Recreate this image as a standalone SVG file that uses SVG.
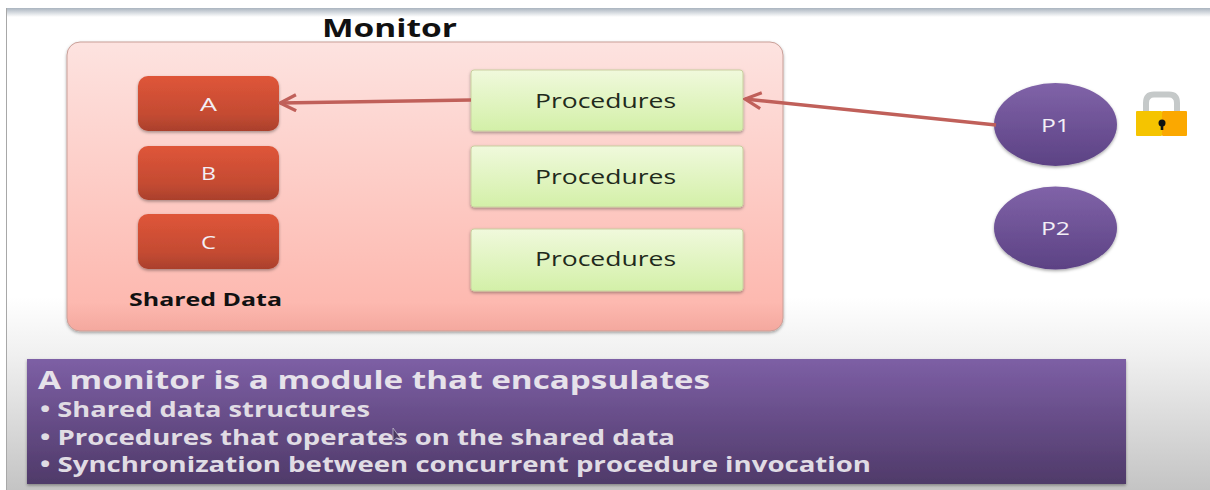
<svg xmlns="http://www.w3.org/2000/svg" width="1210" height="490" viewBox="0 0 1210 490">
<defs>
<linearGradient id="bg" x1="0" y1="0" x2="0" y2="1"><stop offset="0" stop-color="#ffffff"/><stop offset="0.6" stop-color="#ffffff"/><stop offset="0.72" stop-color="#f0f0f0"/><stop offset="1" stop-color="#c4c4c4"/></linearGradient>
<linearGradient id="mon" x1="0" y1="0" x2="0" y2="1"><stop offset="0" stop-color="#fde3e0"/><stop offset="0.9" stop-color="#fdb9b0"/><stop offset="1" stop-color="#f4a89e"/></linearGradient>
<linearGradient id="red" x1="0" y1="0" x2="0" y2="1"><stop offset="0" stop-color="#df5539"/><stop offset="0.7" stop-color="#c44b32"/><stop offset="1" stop-color="#aa402c"/></linearGradient>
<linearGradient id="grn" x1="0" y1="0" x2="0" y2="1"><stop offset="0" stop-color="#f0f9dc"/><stop offset="1" stop-color="#d3f0a8"/></linearGradient>
<linearGradient id="pur" x1="0" y1="0" x2="0" y2="1"><stop offset="0" stop-color="#8063a8"/><stop offset="1" stop-color="#5c4284"/></linearGradient>
<linearGradient id="pur2" x1="0" y1="0" x2="0" y2="1"><stop offset="0" stop-color="#7d5fa5"/><stop offset="1" stop-color="#4f3a69"/></linearGradient>
<linearGradient id="top" x1="0" y1="0" x2="0" y2="1"><stop offset="0" stop-color="#aab4bf"/><stop offset="1" stop-color="#ffffff"/></linearGradient>
<marker id="arr" viewBox="0 0 12 12" refX="11" refY="6" markerWidth="5.500" markerHeight="5.500" orient="auto-start-reverse" markerUnits="strokeWidth"><path d="M1 1 L11 6 L1 11" fill="none" stroke="#c0605a" stroke-width="2"/></marker>
<filter id="sh" x="-10%" y="-10%" width="120%" height="130%"><feDropShadow dx="0" dy="1.5" stdDeviation="1.5" flood-color="#000" flood-opacity="0.35"/></filter>
</defs>
<style>
text{font-family:"Open Sans","DejaVu Sans",sans-serif;}
.w{fill:#f3eff6;font-size:19px;font-weight:500;}
.p{fill:#1f2a1c;font-size:20px;font-weight:500;}
.r{fill:url(#red);filter:url(#sh);}
.g{fill:url(#grn);stroke:#c9cf9f;stroke-width:1;filter:url(#sh);}
.c{fill:url(#pur);filter:url(#sh);}
.b{fill:#e0dce4;font-size:21px;font-weight:700;}
.c1{stroke:#c0605a;stroke-width:3.500;fill:none;marker-end:url(#arr);}
</style>
<rect width="1210" height="490" fill="#ffffff"/>
<rect x="6" y="8" width="1204" height="482" fill="url(#bg)"/>
<rect x="6" y="8" width="1" height="482" fill="#a8a8a8"/>
<rect x="7" y="8" width="1203" height="9" fill="url(#top)"/>
<g id="monitor">
<rect x="67" y="42" width="716" height="289" rx="13" fill="url(#mon)" stroke="#c99f98" stroke-width="1" filter="url(#sh)"/>
<text x="322" y="37" font-size="25" font-weight="700" fill="#111" textLength="135" lengthAdjust="spacingAndGlyphs">Monitor</text>
</g>
<g id="node-a"><rect class="r" x="138" y="76" width="141" height="55" rx="10"/><text class="w" x="200" y="110.500" textLength="17" lengthAdjust="spacingAndGlyphs">A</text></g>
<g id="node-b"><rect class="r" x="138" y="146" width="141" height="54" rx="10"/><text class="w" x="201" y="180" textLength="15" lengthAdjust="spacingAndGlyphs">B</text></g>
<g id="node-c"><rect class="r" x="138" y="214" width="141" height="55" rx="10"/><text class="w" x="201" y="249" textLength="15" lengthAdjust="spacingAndGlyphs">C</text></g>
<text x="129" y="306" font-size="18" font-weight="700" fill="#111" textLength="153" lengthAdjust="spacingAndGlyphs">Shared Data</text>
<g id="proc-1"><rect class="g" x="471" y="70" width="272" height="61" rx="3"/><text class="p" x="535" y="107.500" textLength="141" lengthAdjust="spacingAndGlyphs">Procedures</text></g>
<g id="proc-2"><rect class="g" x="471" y="146" width="272" height="61" rx="3"/><text class="p" x="535" y="183.500" textLength="141" lengthAdjust="spacingAndGlyphs">Procedures</text></g>
<g id="proc-3"><rect class="g" x="471" y="229" width="272" height="62" rx="3"/><text class="p" x="535" y="266" textLength="141" lengthAdjust="spacingAndGlyphs">Procedures</text></g>
<g id="p1"><ellipse class="c" cx="1055.500" cy="124.500" rx="61.500" ry="41.500"/><text class="w" x="1041" y="131.500" textLength="29" lengthAdjust="spacingAndGlyphs">P1</text></g>
<g id="p2"><ellipse class="c" cx="1055.500" cy="228" rx="61.500" ry="41.500"/><text class="w" x="1041" y="235" textLength="29" lengthAdjust="spacingAndGlyphs">P2</text></g>
<g id="lock">
<path d="M1146 112 V103 Q1146 94.500 1154 94.500 H1169 Q1177 94.500 1177 103 V112" fill="none" stroke="#c5c9c9" stroke-width="6"/>
<rect x="1136" y="111" width="26" height="25" rx="1" fill="#f5c400"/>
<rect x="1162" y="111" width="25" height="25" rx="1" fill="#fba800"/>
<circle cx="1162" cy="123" r="3.500" fill="#111"/><rect x="1160.700" y="123" width="2.600" height="7" fill="#111"/>
</g>
<g id="connectors">
<line class="c1" x1="471" y1="100" x2="280" y2="103"/>
<line class="c1" x1="996" y1="125" x2="745" y2="99"/>
</g>
<g id="note">
<rect x="27" y="359" width="1099" height="125" fill="url(#pur2)" filter="url(#sh)"/>
<text x="38" y="389" font-size="25" font-weight="700" fill="#e6e2ea" textLength="672" lengthAdjust="spacingAndGlyphs">A monitor is a module that encapsulates</text>
<text class="b" x="40" y="417" textLength="330" lengthAdjust="spacingAndGlyphs">• Shared data structures</text>
<text class="b" x="40" y="445" textLength="635" lengthAdjust="spacingAndGlyphs">• Procedures that operates on the shared data</text>
<text class="b" x="40" y="472" textLength="831" lengthAdjust="spacingAndGlyphs">• Synchronization between concurrent procedure invocation</text>
<path d="M393 428 L393 441 L396.500 438 L401 439 Z" fill="#4a3a60" stroke="#c9c3d3" stroke-width="0.7"/>
</g>
</svg>
